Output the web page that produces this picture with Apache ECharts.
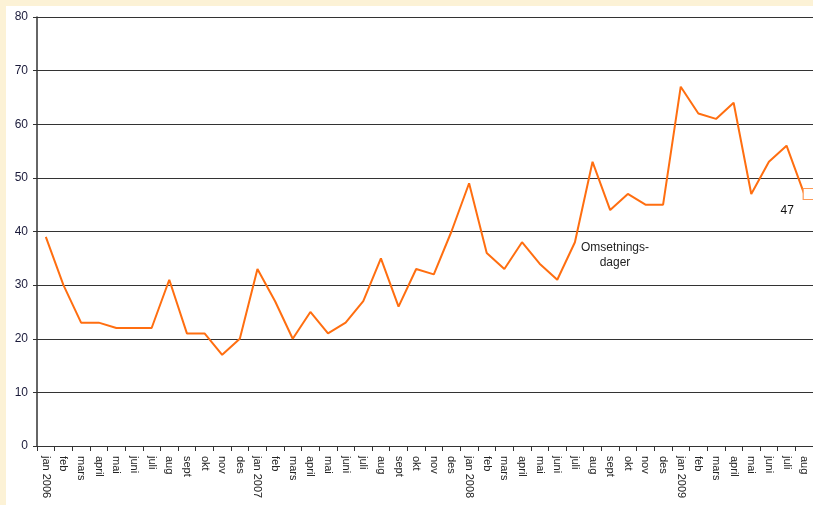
<!DOCTYPE html>
<html><head><meta charset="utf-8">
<script src="https://cdn.jsdelivr.net/npm/echarts@6/dist/echarts.min.js"></script>
<style>html,body{margin:0;padding:0;background:#FCF2D6;}#c{width:813px;height:505px;}</style>
</head><body><div id="c"></div>
<script>
const categories = ["jan 2006","feb","mars","april","mai","juni","juli","aug","sept","okt","nov","des",
"jan 2007","feb","mars","april","mai","juni","juli","aug","sept","okt","nov","des",
"jan 2008","feb","mars","april","mai","juni","juli","aug","sept","okt","nov","des",
"jan 2009","feb","mars","april","mai","juni","juli","aug"];
const omsetningsdager = [39,30,23,23,22,22,22,31,21,21,17,20,
33,27,20,25,21,23,27,35,26,33,32,40,
49,36,33,38,34,31,38,53,44,47,45,45,
67,62,61,64,47,53,56,47];
const yTicks = {min:0, max:80, interval:10};
const seriesName = "Omsetnings-\ndager";

const chart = echarts.init(document.getElementById('c'), null, {renderer:'canvas'});
const lastIdx = omsetningsdager.length - 1;
chart.setOption({
  animation:false,
  backgroundColor:'#FCF2D6',
  graphic:[
    {type:'rect', shape:{x:6,y:6,width:807,height:499}, style:{fill:'#ffffff'}, z:-10, silent:true},
    {type:'text', left:581, top:240, style:{text:seriesName, font:'12px "Liberation Sans", Arial, sans-serif', lineHeight:15, fill:'#222', align:'center', textAlign:'center'}, z:10}
  ],
  grid:{left:37, top:17, right:-9, bottom:59, containLabel:false},
  xAxis:{
    type:'category', data:categories, boundaryGap:true,
    axisLine:{lineStyle:{color:'#333', width:1}},
    axisTick:{show:true, alignWithLabel:false, length:5, lineStyle:{color:'#333'}},
    axisLabel:{rotate:-90, interval:0, color:'#222', fontSize:11, fontFamily:'"Liberation Sans", Arial, sans-serif', margin:10, align:'left', verticalAlign:'middle'},
    splitLine:{show:false}
  },
  yAxis:{
    type:'value', min:yTicks.min, max:yTicks.max, interval:yTicks.interval,
    axisLine:{show:true, lineStyle:{color:'#333', width:1.5}},
    axisTick:{show:true, length:4, lineStyle:{color:'#333'}},
    axisLabel:{color:'#1a1a3a', fontSize:12, fontFamily:'"Liberation Sans", Arial, sans-serif', margin:9},
    splitLine:{show:true, lineStyle:{color:'#333', width:1}}
  },
  series:[{
    type:'line', data:omsetningsdager.map((v,i)=> i===lastIdx ? {value:v, symbol:'rect', symbolSize:[16,11], symbolOffset:[7,0], itemStyle:{color:'#fff', borderColor:'#FF9A55', borderWidth:1},
      label:{show:true, formatter:'{c}', position:'bottom', offset:[-24,0], color:'#111', fontSize:12, fontFamily:'"Liberation Sans", Arial, sans-serif'}} : v),
    showSymbol:true, symbol:'none',
    lineStyle:{color:'#FF6E10', width:2},
    itemStyle:{color:'#FF6E10'}
  }]
});
</script></body></html>
